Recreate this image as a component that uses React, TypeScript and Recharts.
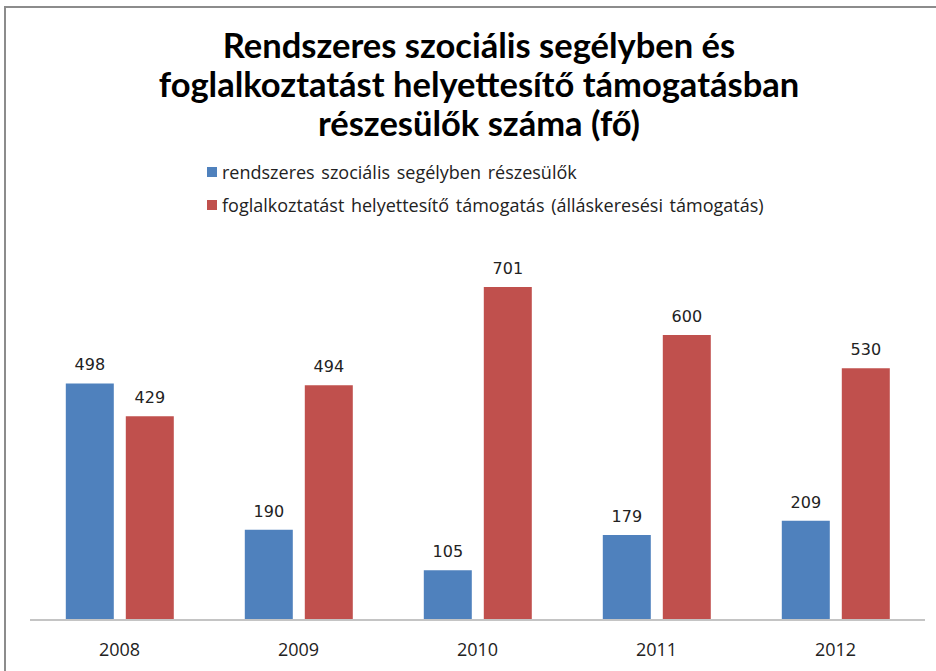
import { Bar, BarChart, LabelList, XAxis, YAxis } from "recharts"

const years = ["2008", "2009", "2010", "2011", "2012"]
const segely = [498, 190, 105, 179, 209]
const fht = [429, 494, 701, 600, 530]
const seriesNames = [
    "rendszeres szociális segélyben részesülők",
    "foglalkoztatást helyettesítő támogatás (álláskeresési támogatás)",
]
const titleLines = [
    "Rendszeres szociális segélyben és",
    "foglalkoztatást helyettesítő támogatásban",
    "részesülők száma (fő)",
]

const BLUE = "#4F81BD"
const RED = "#C0504D"

const data = years.map((year, i) => ({ year, segely: segely[i], fht: fht[i] }))

// legend sits between title and bars, drawn as plain html
function LegendBox() {
    const items = [
        { name: seriesNames[0], color: BLUE },
        { name: seriesNames[1], color: RED },
    ]
    return (
        <div style={{ position: "absolute", left: 207, top: 155, fontFamily: "'Open Sans', sans-serif", fontSize: 18, color: "#222" }}>
            {items.map((it) => (
                <div key={it.name} style={{ display: "flex", alignItems: "center", height: 33, whiteSpace: "nowrap" }}>
                    <span style={{ width: 10, height: 10, background: it.color, marginRight: 5, display: "inline-block" }} />
                    <span style={{ wordSpacing: 2 }}>{it.name}</span>
                </div>
            ))}
        </div>
    )
}

export default function App() {
    return (
        <div style={{ position: "absolute", left: 0, top: 0, width: 936, height: 671, background: "#fff", overflow: "hidden" }}>
            {/* frame of the embedded chart */}
            <div style={{ position: "absolute", left: 4, top: 6, width: 940, height: 680, borderLeft: "2px solid #8c8c8c", borderTop: "2px solid #8c8c8c" }} />
            <div
                style={{
                    position: "absolute", left: 0, top: 25, width: 958, textAlign: "center",
                    fontFamily: "Lato, 'Open Sans', sans-serif", fontWeight: 700,
                    fontSize: 34.5, lineHeight: "39px", color: "#000",
                }}
            >
                {titleLines.map((t) => <div key={t}>{t}</div>)}
            </div>
            <LegendBox />
            <BarChart
                width={936}
                height={671}
                data={data}
                margin={{ top: 240, right: 11, bottom: 21, left: 30 }}
                barCategoryGap="20%"
                barGap={12}
                style={{ position: "absolute", left: 0, top: 0 }}
            >
                <XAxis
                    dataKey="year"
                    height={30}
                    tickLine={false}
                    axisLine={{ stroke: "#c4c4c4", strokeWidth: 2 }}
                    tick={{ fill: "#222", fontSize: 18, fontFamily: "'Open Sans', sans-serif" }}
                    tickMargin={17}
                />
                <YAxis hide domain={[0, 800]} />
                <Bar dataKey="segely" name={seriesNames[0]} fill={BLUE} isAnimationActive={false}>
                    <LabelList dataKey="segely" position="top" offset={13} fill="#222" fontSize={16} fontFamily="'DejaVu Sans', sans-serif" />
                </Bar>
                <Bar dataKey="fht" name={seriesNames[1]} fill={RED} isAnimationActive={false}>
                    <LabelList dataKey="fht" position="top" offset={13} fill="#222" fontSize={16} fontFamily="'DejaVu Sans', sans-serif" />
                </Bar>
            </BarChart>
        </div>
    )
}
